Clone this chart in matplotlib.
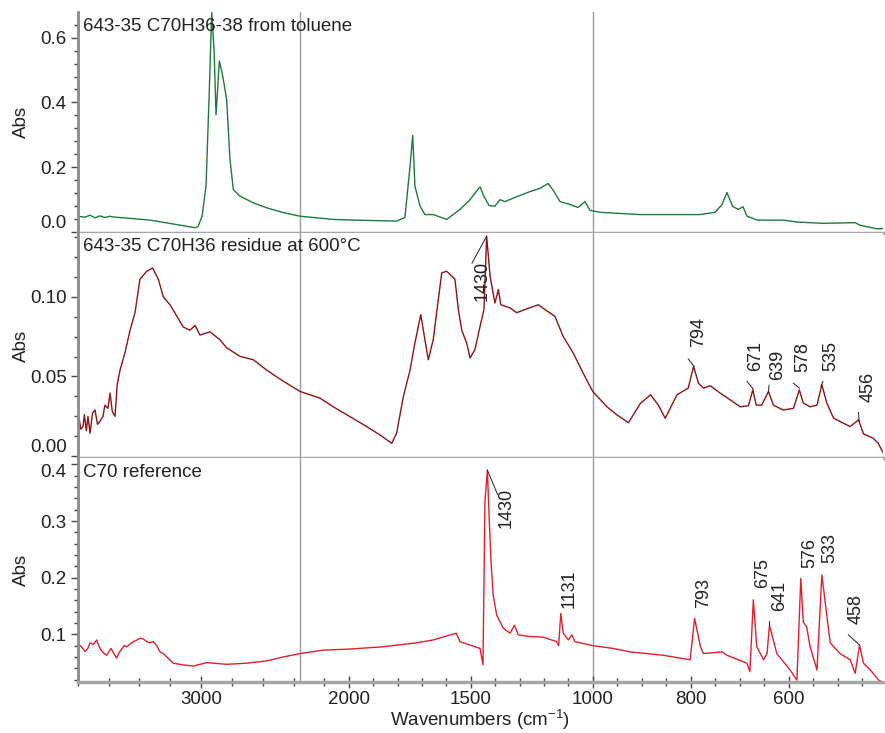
import numpy as np
import matplotlib
matplotlib.use("Agg")
import matplotlib.pyplot as plt
from matplotlib.ticker import FixedLocator, AutoMinorLocator, NullFormatter

plt.rcParams['font.family'] = ['Liberation Sans', 'DejaVu Sans']
plt.rcParams['mathtext.fontset'] = 'custom'
plt.rcParams['mathtext.rm'] = 'Liberation Sans'
plt.rcParams['mathtext.it'] = 'Liberation Sans:italic'

# spectra (wavenumber in cm-1, absorbance)
wn_toluene = [4000, 3941, 3900, 3860, 3819, 3779, 3738, 3722, 3415, 3212, 3050,
              3026, 2993, 2961, 2937, 2915, 2896, 2880, 2864, 2853, 2826, 2794,
              2767, 2740, 2686, 2578, 2470, 2335, 2200, 2064, 1927, 1804, 1770,
              1749, 1738, 1729, 1708, 1688, 1654, 1599, 1544, 1503, 1478, 1462,
              1446, 1425, 1401, 1380, 1360, 1319, 1257, 1216, 1183, 1163, 1134,
              1093, 1060, 1032, 1011, 985, 903, 781, 750, 736, 726, 714, 703,
              693, 685, 664, 611, 583, 530, 464, 454, 419, 407]
abs_toluene = [0.049, 0.046, 0.052, 0.044, 0.050, 0.045, 0.049, 0.047, 0.037, 0.024, 0.0135,
               0.017, 0.049, 0.142, 0.408, 0.677, 0.562, 0.362, 0.46, 0.528, 0.482, 0.408,
               0.224, 0.131, 0.111, 0.090, 0.075, 0.060, 0.049, 0.039, 0.036, 0.034, 0.045,
               0.203, 0.298, 0.142, 0.080, 0.054, 0.054, 0.039, 0.070, 0.10, 0.125, 0.14,
               0.11, 0.082, 0.080, 0.10, 0.094, 0.107, 0.125, 0.135, 0.15, 0.13, 0.094,
               0.085, 0.076, 0.094, 0.067, 0.061, 0.054, 0.054, 0.061, 0.085, 0.122, 0.079, 0.070,
               0.078, 0.049, 0.037, 0.037, 0.031, 0.027, 0.029, 0.021, 0.010, 0.011]

wn_residue = [3987, 3975, 3957, 3946, 3930, 3917, 3900, 3880, 3860, 3840, 3819,
              3795, 3780, 3755, 3738, 3720, 3698, 3680, 3657,
              3617, 3576, 3536, 3496, 3441, 3393, 3347, 3307, 3253, 3199, 3145,
              3091, 3050, 3010, 2929, 2848, 2794, 2686, 2578, 2470, 2335, 2200,
              2118, 2064, 1995, 1927, 1872, 1824, 1804, 1777, 1749, 1729, 1705,
              1688, 1674, 1654, 1640, 1619, 1599, 1585, 1565, 1551, 1537, 1517,
              1503, 1483, 1462, 1446, 1435, 1421, 1401, 1387, 1377, 1339, 1312,
              1271, 1223, 1196, 1155, 1121, 1080, 1039, 1000, 971, 951, 927, 903,
              882, 866, 852, 828, 805, 794, 784, 774, 760, 740, 719, 699, 682,
              673, 666, 655, 641, 631, 611, 590, 578, 570, 556, 542, 532, 522,
              508, 488, 474, 457, 447, 427, 417, 406]
abs_residue = [0.0228, 0.017, 0.0186, 0.026, 0.016, 0.025, 0.0144, 0.027, 0.029, 0.020, 0.022,
               0.025, 0.032, 0.030, 0.0396, 0.028, 0.025, 0.045, 0.054,
               0.065, 0.079, 0.090, 0.111, 0.116, 0.118, 0.111, 0.100, 0.095, 0.088, 0.081,
               0.079, 0.082, 0.076, 0.078, 0.073, 0.068, 0.0626, 0.0605, 0.054, 0.047, 0.0406,
               0.0364, 0.031, 0.0248, 0.0186, 0.0133, 0.0081, 0.0144, 0.037, 0.054, 0.071, 0.0888,
               0.073, 0.0605, 0.073, 0.090, 0.115, 0.116, 0.114, 0.111, 0.092, 0.079, 0.071,
               0.0616, 0.0668, 0.0814, 0.092, 0.138, 0.113, 0.096, 0.1045, 0.095, 0.093, 0.090,
               0.0924, 0.095, 0.092, 0.0877, 0.075, 0.0647, 0.052, 0.0406, 0.031, 0.026, 0.021, 0.033,
               0.0385, 0.032, 0.0238, 0.0385, 0.0427, 0.0563, 0.0458, 0.0427, 0.0442, 0.0396, 0.0353, 0.031, 0.0316,
               0.0416, 0.032, 0.032, 0.0406, 0.032, 0.029, 0.030, 0.0416, 0.0334, 0.031, 0.032, 0.0448, 0.0334,
               0.0238, 0.0207, 0.0186, 0.0228, 0.014, 0.0113, 0.0081, 0.0018]

wn_ref = [3987, 3970, 3941, 3920, 3900, 3875, 3846, 3830, 3811, 3790, 3765,
          3745, 3730, 3705, 3684, 3665, 3649, 3625, 3603, 3575, 3550, 3520,
          3496, 3470, 3447, 3420, 3388, 3360, 3334, 3307, 3226, 3147, 3064,
          2955, 2794, 2632, 2470, 2335, 2200, 2105, 1995, 1859, 1722, 1654,
          1560, 1544, 1462, 1450, 1442, 1432, 1424, 1417, 1408, 1394, 1367,
          1339, 1321, 1305, 1257, 1203, 1148, 1140, 1131, 1121, 1100, 1086,
          1073, 1000, 958, 924, 856, 801, 792, 780, 774, 736, 726, 685, 679,
          672, 665, 651, 644, 639, 624, 597, 583, 575, 570, 563, 556, 542,
          532, 522, 515, 495, 474, 464, 455, 447, 433, 416, 407]
abs_ref = [0.081, 0.078, 0.070, 0.074, 0.085, 0.082, 0.090, 0.080, 0.072, 0.067, 0.063,
           0.070, 0.075, 0.065, 0.058, 0.068, 0.072, 0.080, 0.078, 0.083, 0.087, 0.090,
           0.093, 0.092, 0.088, 0.085, 0.087, 0.080, 0.069, 0.066, 0.049, 0.046, 0.044,
           0.050, 0.047, 0.049, 0.053, 0.060, 0.066, 0.072, 0.074, 0.078, 0.085, 0.090,
           0.102, 0.087, 0.075, 0.046, 0.334, 0.390, 0.299, 0.228, 0.169, 0.134, 0.111,
           0.102, 0.116, 0.099, 0.096, 0.095, 0.087, 0.080, 0.137, 0.102, 0.090, 0.099,
           0.087, 0.080, 0.075, 0.069, 0.063, 0.055, 0.128, 0.078, 0.066, 0.069, 0.063, 0.049, 0.034,
           0.161, 0.078, 0.055, 0.066, 0.116, 0.066, 0.037, 0.019, 0.199, 0.122, 0.113, 0.078, 0.037,
           0.205, 0.134, 0.085, 0.066, 0.055, 0.031, 0.081, 0.049, 0.037, 0.019, 0.015]

titles = ["643-35 C70H36-38 from toluene", "643-35 C70H36 residue at 600°C", "C70 reference"]

# peak labels: text, text position (wn, abs), optional leader (wn0, a0, wn1, a1)
res_labels = ['1430', '794', '671', '639', '578', '535', '456']
res_text_pos = [(1455, 0.110), (784, 0.0778), (668, 0.0627), (622, 0.0574),
                (571, 0.0621), (513, 0.063), (437, 0.0435)]
res_leaders = [(1495, 0.121, 1435, 0.138), (805, 0.061, 793, 0.0563), (685, 0.0469, 672, 0.0421),
               (640, 0.0445, 641, 0.0406), (590, 0.0458, 578, 0.0427), (530, 0.0469, 534, 0.0437),
               (457, 0.0274, 456, 0.0217)]
ref_labels = ['1430', '1131', '793', '675', '641', '576', '533', '458']
ref_text_pos = [(1355, 0.324), (1096, 0.181), (773, 0.173), (654, 0.208),
                (619, 0.168), (556, 0.244), (515, 0.252), (461, 0.145)]
ref_leaders = [(1432, 0.390, 1390, 0.347), None, None, None,
               (640, 0.116, 640, 0.123), None, None, (478, 0.099, 456, 0.082)]

# piecewise-linear wavenumber axis (compressed above 2200 and expanded below 1000)
seg_wn = [0, 400, 1000, 2200, 4000, 10000]
seg_pos = [-195.8, 0, 293.7, 586.4, 808.7, 1549.7]


def fwd(w):
    return np.interp(w, seg_wn, seg_pos)


def inv(p):
    return np.interp(p, seg_pos, seg_wn)


fig = plt.figure(figsize=(8.85, 7.33), dpi=100)
left, width = 0.0878, 0.910
ax1 = fig.add_axes([left, 0.6825, width, 0.3011])
ax2 = fig.add_axes([left, 0.3748, width, 0.3078], sharex=ax1)
ax3 = fig.add_axes([left, 0.0700, width, 0.3048], sharex=ax1)
axes = [ax1, ax2, ax3]

ax1.set_xscale('function', functions=(fwd, inv))
ax1.set_xlim(4000, 407)

ax1.plot(wn_toluene, abs_toluene, color='#1e7a3c', lw=1.0)
ax2.plot(wn_residue, abs_residue, color='#8b1515', lw=1.0)
ax3.plot(wn_ref, abs_ref, color='#e2202b', lw=1.0)

ax1.set_ylim(-0.002, 0.679)
ax2.set_ylim(-0.0013, 0.1402)
ax3.set_ylim(0.0163, 0.411)

yticks = [[0.0, 0.2, 0.4, 0.6], [0.0, 0.05, 0.10], [0.1, 0.2, 0.3, 0.4]]
ylabs = [['0.0', '0.2', '0.4', '0.6'], ['0.00', '0.05', '0.10'], ['0.1', '0.2', '0.3', '0.4']]
nminor = [5, 4, 5]

major = [3000, 2000, 1500, 1000, 800, 600]
minor = list(np.arange(4000, 2200, -250)) + list(np.arange(2100, 1000, -100)) + list(np.arange(950, 400, -50))

fs = 13.5
for i, ax in enumerate(axes):
    for wv in (2200, 1000):
        ax.axvline(wv, color='#9c9c9c', lw=1.0, zorder=0)
    for s in ('top', 'right'):
        ax.spines[s].set_visible(False)
    ax.spines['left'].set_color('#8a8a8a')
    ax.spines['left'].set_linewidth(2.0)
    ax.spines['bottom'].set_color('#a6a6a6')
    ax.spines['bottom'].set_linewidth(2.5)
    ax.set_yticks(yticks[i], labels=ylabs[i])
    ax.yaxis.set_minor_locator(AutoMinorLocator(nminor[i]))
    ax.tick_params(axis='y', which='major', direction='out', length=5, width=1,
                   color='#444444', labelsize=fs, labelcolor='#222222', pad=3)
    ax.tick_params(axis='y', which='minor', direction='out', length=3, width=1, color='#444444')
    ax.set_ylabel('Abs', fontsize=fs, color='#222222')
    ax.yaxis.set_label_coords(-0.059, 0.5)
    ax.text(0.0066, 0.975, titles[i], transform=ax.transAxes, va='top', ha='left',
            fontsize=fs, color='#222222')

# keep edge tick labels inside each panel
ax1.get_yticklabels()[0].set_va('bottom')
ax2.get_yticklabels()[0].set_va('bottom')
ax3.get_yticklabels()[-1].set_va('top')

ax3.xaxis.set_major_locator(FixedLocator(major))
ax3.xaxis.set_minor_locator(FixedLocator(minor))
ax3.set_xticklabels([str(m) for m in major])
ax3.xaxis.set_minor_formatter(NullFormatter())
ax3.tick_params(axis='x', which='major', direction='inout', length=9, width=1,
                color='#444444', labelsize=fs, labelcolor='#222222', pad=2)
ax3.tick_params(axis='x', which='minor', direction='inout', length=6, width=1, color='#444444')
for ax in (ax1, ax2):
    ax.tick_params(axis='x', which='both', length=0, labelbottom=False)
ax3.set_xlabel('Wavenumbers (cm$^{-1}$)', fontsize=fs, color='#222222', labelpad=0)

for lab, (tx, ty), ld in zip(res_labels, res_text_pos, res_leaders):
    ax2.text(tx, ty, lab, rotation=90, ha='center', va='center', fontsize=13, color='#222222')
    if ld is not None:
        ax2.plot([ld[0], ld[2]], [ld[1], ld[3]], color='#222222', lw=0.7)

for lab, (tx, ty), ld in zip(ref_labels, ref_text_pos, ref_leaders):
    ax3.text(tx, ty, lab, rotation=90, ha='center', va='center', fontsize=13, color='#222222')
    if ld is not None:
        ax3.plot([ld[0], ld[2]], [ld[1], ld[3]], color='#222222', lw=0.7)

fig.savefig('out.png', dpi=100)
